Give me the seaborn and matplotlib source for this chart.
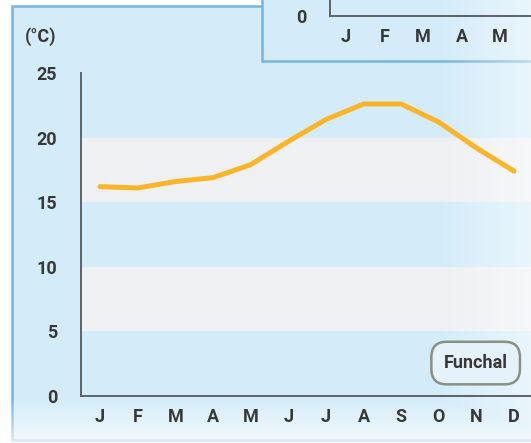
import numpy as np
import pandas as pd
import matplotlib.pyplot as plt
import seaborn as sns
from matplotlib.patches import Rectangle

# Funchal monthly mean temperature (°C)
months = ['J', 'F', 'M', 'A', 'M', 'J', 'J', 'A', 'S', 'O', 'N', 'D']
temps = [16.2, 16.1, 16.6, 16.9, 17.9, 19.7, 21.4, 22.6, 22.6, 21.2, 19.2, 17.4]
y_ticks = [0, 5, 10, 15, 20, 25]
grey_bands = [(5, 10), (15, 20)]
inset_ticks = [0]

df = pd.DataFrame({'pos': np.arange(len(months)), 'temp': temps})

sns.set_style('white')
plt.rcParams['font.family'] = ['Roboto', 'DejaVu Sans']

W, H = 531, 443
panel_blue = '#d4ecf9'
border_blue = '#74b5e3'
axis_col = '#5f6366'
text_col = '#383838'
band_col = '#eff0f2'
line_col = '#fbb52b'

fig = plt.figure(figsize=(W / 100, H / 100), dpi=100)
fig.patch.set_facecolor('white')

# background panels (pixel coordinates of the figure)
bg = fig.add_axes([0, 0, 1, 1], zorder=0)
bg.set_xlim(0, W)
bg.set_ylim(H, 0)
bg.axis('off')
bg.add_patch(Rectangle((12, 6), 560, 434, facecolor=panel_blue,
                       edgecolor=border_blue, lw=1.8))
bg.add_patch(Rectangle((262, -20), 320, 81, facecolor=panel_blue,
                       edgecolor=border_blue, lw=1.8))

pos = [81 / W, 47 / H, 450 / W, 323 / H]
xlim = (-0.505, 11.45)

# stripes
ax = fig.add_axes(pos, zorder=1)
ax.patch.set_alpha(0)
for lo, hi in grey_bands:
    ax.axhspan(lo, hi, color=band_col, lw=0)
ax.set_xlim(*xlim)
ax.set_ylim(0, 25)
ax.axis('off')

# white fade at the right and bottom edge
fade = fig.add_axes([0, 0, 1, 1], zorder=2)
xs = np.arange(W)
ys = np.arange(H)
a_right = np.clip((xs - 440) / 91, 0, 1) * 0.5
a_bottom = np.clip((ys - 398) / 42, 0, 1) * 0.7
alpha = np.maximum(a_right[None, :], a_bottom[:, None])
rgba = np.ones((H, W, 4))
rgba[..., 3] = alpha
fade.imshow(rgba, extent=(0, W, H, 0), aspect='auto')
fade.set_xlim(0, W)
fade.set_ylim(H, 0)
fade.axis('off')

# main chart
lax = fig.add_axes(pos, zorder=3)
lax.patch.set_alpha(0)
sns.lineplot(data=df, x='pos', y='temp', ax=lax, color=line_col, lw=3.6,
             solid_capstyle='round', solid_joinstyle='round')
lax.set_xticks(df['pos'])
lax.set_xticklabels(months)
lax.set_yticks(y_ticks)
lax.set_xlim(*xlim)
lax.set_ylim(0, 25)
lax.set_xlabel('')
lax.set_ylabel('')
for s in ['top', 'right']:
    lax.spines[s].set_visible(False)
for s in ['left', 'bottom']:
    lax.spines[s].set_color(axis_col)
    lax.spines[s].set_linewidth(1.4)
lax.tick_params(axis='y', length=8.6, width=1.4, color=axis_col, pad=8.6,
                labelsize=13, labelcolor=text_col)
lax.tick_params(axis='x', length=0, pad=9, labelsize=13, labelcolor=text_col)
for t in lax.get_xticklabels() + lax.get_yticklabels():
    t.set_fontweight('bold')

lax.text(0.877, 0.102, 'Funchal', transform=lax.transAxes, ha='center',
         va='center', fontsize=13, fontweight='bold', color=text_col,
         bbox=dict(boxstyle='round,pad=0.68,rounding_size=0.85',
                   facecolor='#e6f2f9', edgecolor='#8b9085', lw=1.8))

fig.text(25 / W, 1 - 37 / H, '(°C)', ha='left', va='center', fontsize=13,
         fontweight='bold', color=text_col)

# inset chart at the top right (only its lower edge is visible)
iax = fig.add_axes([330 / W, (H - 16) / H, 201 / W, 0.12], zorder=3)
iax.patch.set_alpha(0)
iax.set_xticks(df['pos'])
iax.set_xticklabels(months)
iax.set_yticks(inset_ticks)
iax.set_xlim(-0.42, 4.8)
iax.set_ylim(0, 10)
for s in ['top', 'right']:
    iax.spines[s].set_visible(False)
for s in ['left', 'bottom']:
    iax.spines[s].set_color(axis_col)
    iax.spines[s].set_linewidth(1.4)
iax.tick_params(axis='y', length=8.6, width=1.4, color=axis_col, pad=8.6,
                labelsize=13, labelcolor=text_col)
iax.tick_params(axis='x', length=0, pad=9, labelsize=13, labelcolor=text_col)
for t in iax.get_xticklabels() + iax.get_yticklabels():
    t.set_fontweight('bold')

fig.savefig('out.png', dpi=100)
